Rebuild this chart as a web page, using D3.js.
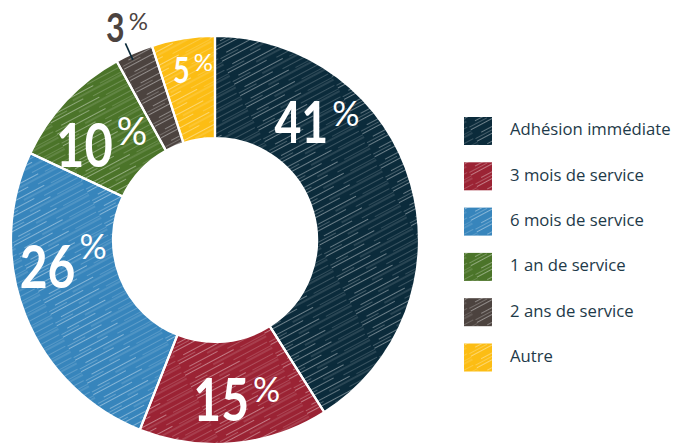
<!DOCTYPE html>
<html><head><meta charset="utf-8">
<script src="https://cdn.jsdelivr.net/npm/d3@7/dist/d3.min.js"></script>
<style>html,body{margin:0;padding:0;background:#fff;}svg{display:block;}</style>
</head><body>
<svg id="chart" width="673" height="443"></svg>
<script>
const categories = ["Adhésion immédiate","3 mois de service","6 mois de service","1 an de service","2 ans de service","Autre"];
const values = [41, 15, 26, 10, 3, 5];
const colors = ["#0b2b3b","#9b2334","#3785bc","#4b7429","#4c433f","#fcbd14"];
const labelNums = ["41","15","26","10","3","5"];

const svg = d3.select("#chart");
const cx = 215, cy = 240, rOuter = 204, rInner = 102;

// hatch pattern (sketchy white strokes)
const defs = svg.append("defs");
const pat = defs.append("pattern").attr("id","hatch").attr("patternUnits","userSpaceOnUse")
  .attr("width",90).attr("height",13).attr("patternTransform","rotate(-28)");
const hatchLines = [[0,1.5,55,0.5],[30,5,90,0.3],[8,8.5,40,0.45],[50,10.5,88,0.25],[62,2.5,90,0.2],[0,11.5,20,0.3]];
hatchLines.forEach(l=>{
  pat.append("line").attr("x1",l[0]).attr("x2",l[2]).attr("y1",l[1]).attr("y2",l[1])
    .attr("stroke","#fff").attr("stroke-width",0.8).attr("stroke-opacity",l[3]);
});

const g = svg.append("g").attr("transform",`translate(${cx},${cy})`);
const pie = d3.pie().sort(null).value(d=>d);
const arcs = pie(values);
const arc = d3.arc().innerRadius(rInner).outerRadius(rOuter);

g.selectAll("path.slice").data(arcs).join("path").attr("class","slice")
  .attr("d",arc).attr("fill",(d,i)=>colors[i]);
g.selectAll("path.hatch").data(arcs).join("path").attr("class","hatch")
  .attr("d",arc).attr("fill","url(#hatch)");
g.selectAll("path.sep").data(arcs).join("path").attr("class","sep")
  .attr("d",arc).attr("fill","none").attr("stroke","#fff").attr("stroke-width",2.2);

// labels: placed by angle (deg clockwise from top) and radius from centre
const labelLayout = [
  {a:40.8,  r:156, size:58, pct:34, lift:0, col:"#fff"},
  {a:172.2, r:161, size:60, pct:34, lift:0, col:"#fff"},
  {a:-99.7, r:154, size:60, pct:34, lift:10, col:"#fff"},
  {a:-50,   r:148, size:61, pct:38, lift:5, col:"#fff"},
  {a:-22.5, r:230, size:40, pct:24, lift:0, col:"#4c433f"},
  {a:-7.4,  r:171, size:36, pct:24, lift:4, col:"#fff"}
];
const labelFont = "Lato, 'Open Sans', sans-serif";
const sx = 0.8;
labelLayout.forEach((L,i)=>{
  const rad = L.a*Math.PI/180;
  const x = Math.sin(rad)*L.r, y = -Math.cos(rad)*L.r;
  const lgp = g.append("g").attr("transform",`translate(${x},${y})`);
  const hD = L.size*0.72, hP = L.pct*0.72;
  const num = lgp.append("text").attr("fill",L.col).attr("font-family",labelFont)
    .attr("font-weight",700).attr("font-size",L.size).attr("y",hD/2).text(labelNums[i]);
  const pc = lgp.append("text").attr("fill",L.col).attr("font-family",labelFont)
    .attr("font-weight",400).attr("font-size",L.pct).attr("y",-hD/2+hP-L.lift).text("%");
  const wN = num.node().getComputedTextLength()*sx;
  const wP = pc.node().getComputedTextLength();
  const gap = 4;
  const x0 = -(wN+gap+wP)/2;
  num.attr("transform",`translate(${x0},0) scale(${sx},1)`);
  pc.attr("x",x0+wN+gap);
});
// leader line for 3%
{
  const a = -24.5*Math.PI/180;
  g.append("line").attr("x1",Math.sin(a)*198).attr("y1",-Math.cos(a)*198)
    .attr("x2",Math.sin(a)*216).attr("y2",-Math.cos(a)*216)
    .attr("stroke","#0b2b3b").attr("stroke-width",1.6);
}

// legend
const lg = svg.append("g").attr("transform","translate(464,117)");
const rowH = 45.3;
const rows = lg.selectAll("g.row").data(categories).join("g").attr("class","row")
  .attr("transform",(d,i)=>`translate(0,${i*rowH})`);
rows.append("rect").attr("width",28).attr("height",28).attr("fill",(d,i)=>colors[i]);
rows.append("rect").attr("width",28).attr("height",28).attr("fill","url(#hatch)");
rows.append("text").attr("x",46).attr("y",14).attr("dominant-baseline","middle")
  .attr("font-family","'Open Sans', sans-serif").attr("font-size",16.7).attr("fill","#1e3a49")
  .text(d=>d);
</script>
</body></html>
